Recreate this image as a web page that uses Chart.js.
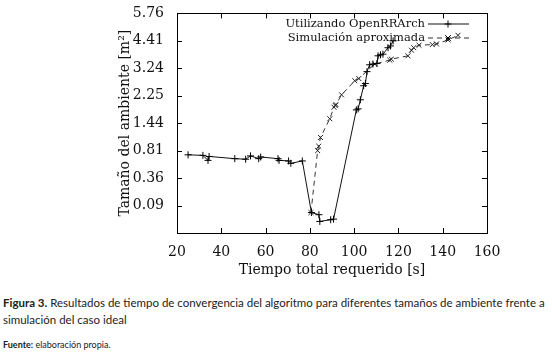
<!DOCTYPE html>
<html>
<head>
<meta charset="utf-8">
<script src="https://cdn.jsdelivr.net/npm/chart.js@4.4.1/dist/chart.umd.min.js"></script>
<style>
body { margin: 0; background: #fff; width: 552px; height: 364px; overflow: hidden; position: relative; }
#grafica { position: absolute; left: 0; top: 0; }
.cap { position: absolute; left: 3px; font-family: Lato, "Open Sans", sans-serif; color: #222; white-space: nowrap; }
</style>
</head>
<body>
<canvas id="grafica" width="552" height="285"></canvas>
<div class="cap" style="top:296px;font-size:11.5px"><b>Figura 3.</b> Resultados de tiempo de convergencia del algoritmo para diferentes tamaños de ambiente frente a</div>
<div class="cap" style="top:313px;font-size:11.5px">simulación del caso ideal</div>
<div class="cap" style="top:339px;font-size:9px"><b>Fuente:</b> elaboración propia.</div>
<script>
// tiempo [s] y tamaño [m2]
const tiempoOpen = [25.0, 31.7, 34.0, 34.5, 46.1, 51.0, 53.2, 56.9, 57.8, 65.6, 66.1, 70.4, 71.4, 76.6, 80.7, 84.1, 84.5, 89.4, 90.7, 101.0, 101.8, 102.8, 104.3, 105.1, 105.8, 107.0, 108.5, 110.3, 110.8, 111.9, 113.0, 115.3, 116.4, 117.6];
const areaOpen = [0.73, 0.72, 0.63, 0.70, 0.66, 0.65, 0.71, 0.66, 0.69, 0.66, 0.63, 0.62, 0.58, 0.62, 0.05, 0.04, 0.016, 0.021, 0.023, 1.81, 1.84, 2.12, 2.59, 2.67, 3.11, 3.38, 3.41, 3.43, 3.75, 3.79, 3.82, 4.10, 4.18, 4.41];

const tiempoSim = [80.5, 83.5, 84.0, 84.8, 89.0, 90.9, 91.5, 91.8, 94.3, 100.3, 102.1, 109.3, 116.1, 116.8, 124.3, 125.9, 126.9, 129.3, 135.3, 137.2, 142.4, 146.9];
const areaSim = [0.05, 0.81, 0.90, 1.09, 1.56, 1.89, 1.94, 1.97, 2.28, 2.77, 2.85, 3.41, 3.57, 3.61, 3.75, 3.99, 4.10, 4.21, 4.24, 4.27, 4.45, 4.67];

const ticksX = [20, 40, 60, 80, 100, 120, 140, 160];
const ticksY = [0.09, 0.36, 0.81, 1.44, 2.25, 3.24, 4.41, 5.76];

const labels = ['Utilizando OpenRRArch', 'Simulación aproximada'];

// eje y en escala raiz cuadrada
function toPoints(xs, ys) {
    return xs.map((x, i) => ({ x: x, y: Math.sqrt(ys[i]) }));
}

const serif = "'DejaVu Serif', serif";

function drawMarker(ctx, style, x, y, r) {
    ctx.beginPath();
    if (style === 'cross') {
        ctx.moveTo(x - r, y); ctx.lineTo(x + r, y);
        ctx.moveTo(x, y - r); ctx.lineTo(x, y + r);
    } else {
        ctx.moveTo(x - r * 0.8, y - r * 0.8); ctx.lineTo(x + r * 0.8, y + r * 0.8);
        ctx.moveTo(x - r * 0.8, y + r * 0.8); ctx.lineTo(x + r * 0.8, y - r * 0.8);
    }
    ctx.stroke();
}

// marco, ticks hacia adentro y leyenda estilo gnuplot
const frame = {
    id: 'frame',
    beforeDatasetsDraw(chart) {
        const ctx = chart.ctx;
        ctx.save();
        ctx.font = '11.5px ' + serif;
        ctx.fillStyle = '#111';
        ctx.textAlign = 'right';
        ctx.textBaseline = 'middle';
        chart.data.datasets.forEach((ds, i) => {
            const y = 24 + i * 14;
            ctx.fillText(ds.label, 425, y);
            ctx.strokeStyle = i === 0 ? '#888' : '#333';
            ctx.lineWidth = i === 0 ? 2 : 1;
            ctx.setLineDash(ds.borderDash || []);
            ctx.beginPath();
            ctx.moveTo(428, y); ctx.lineTo(469, y);
            ctx.stroke();
            ctx.setLineDash([]);
            ctx.strokeStyle = '#000';
            ctx.lineWidth = 1;
            drawMarker(ctx, ds.pointStyle, 448, y, 3.5);
        });
        ctx.restore();
    },
    afterDraw(chart) {
        const ctx = chart.ctx;
        const a = chart.chartArea;
        const sx = chart.scales.x, sy = chart.scales.y;
        ctx.save();
        ctx.strokeStyle = '#000';
        ctx.lineWidth = 1;
        ctx.strokeRect(Math.round(a.left) + 0.5, Math.round(a.top) + 0.5, Math.round(a.right - a.left), Math.round(a.bottom - a.top));
        ctx.beginPath();
        ticksX.forEach(v => {
            const px = Math.round(sx.getPixelForValue(v)) + 0.5;
            ctx.moveTo(px, a.bottom); ctx.lineTo(px, a.bottom - 5);
            ctx.moveTo(px, a.top); ctx.lineTo(px, a.top + 5);
        });
        ticksY.forEach(v => {
            const py = Math.round(sy.getPixelForValue(Math.sqrt(v))) + 0.5;
            ctx.moveTo(a.left, py); ctx.lineTo(a.left + 5, py);
            ctx.moveTo(a.right, py); ctx.lineTo(a.right - 5, py);
        });
        ctx.stroke();
        ctx.restore();
    }
};

new Chart(document.getElementById('grafica'), {
    type: 'scatter',
    data: {
        datasets: [{
            label: labels[0],
            data: toPoints(tiempoOpen, areaOpen),
            showLine: true,
            borderColor: '#111',
            borderWidth: 1,
            pointStyle: 'cross',
            pointRadius: 3.5,
            pointBorderWidth: 1,
            pointBorderColor: '#000'
        }, {
            label: labels[1],
            data: toPoints(tiempoSim, areaSim),
            showLine: true,
            borderColor: '#333',
            borderWidth: 1,
            borderDash: [5, 4],
            pointStyle: 'crossRot',
            pointRadius: 3.5,
            pointBorderWidth: 1,
            pointBorderColor: '#222'
        }]
    },
    options: {
        responsive: false,
        animation: false,
        devicePixelRatio: 1,
        layout: { padding: { left: 0, top: 12, right: 65, bottom: 0 } },
        plugins: {
            legend: { display: false },
            tooltip: { enabled: false }
        },
        scales: {
            x: {
                type: 'linear',
                min: 20,
                max: 160,
                afterBuildTicks: s => { s.ticks = ticksX.map(v => ({ value: v })); },
                afterFit: s => { s.height = 52; },
                grid: { display: false },
                border: { display: false },
                ticks: { padding: 3, color: '#111', font: { family: serif, size: 14 } },
                title: {
                    display: true,
                    text: 'Tiempo total requerido [s]',
                    color: '#111',
                    font: { family: serif, size: 14 },
                    padding: { top: 0, bottom: 6 }
                }
            },
            y: {
                type: 'linear',
                min: 0,
                max: 2.4,
                afterBuildTicks: s => { s.ticks = ticksY.map(v => ({ value: Math.sqrt(v) })); },
                afterFit: s => { s.width = 177; },
                grid: { display: false },
                border: { display: false },
                ticks: {
                    padding: 5,
                    color: '#111',
                    font: { family: serif, size: 14 },
                    callback: v => (v * v).toFixed(2)
                },
                title: {
                    display: true,
                    text: 'Tamaño del ambiente [m²]',
                    color: '#111',
                    font: { family: serif, size: 14 },
                    padding: { top: 117, bottom: 0 }
                }
            }
        }
    },
    plugins: [frame]
});
</script>
</body>
</html>
